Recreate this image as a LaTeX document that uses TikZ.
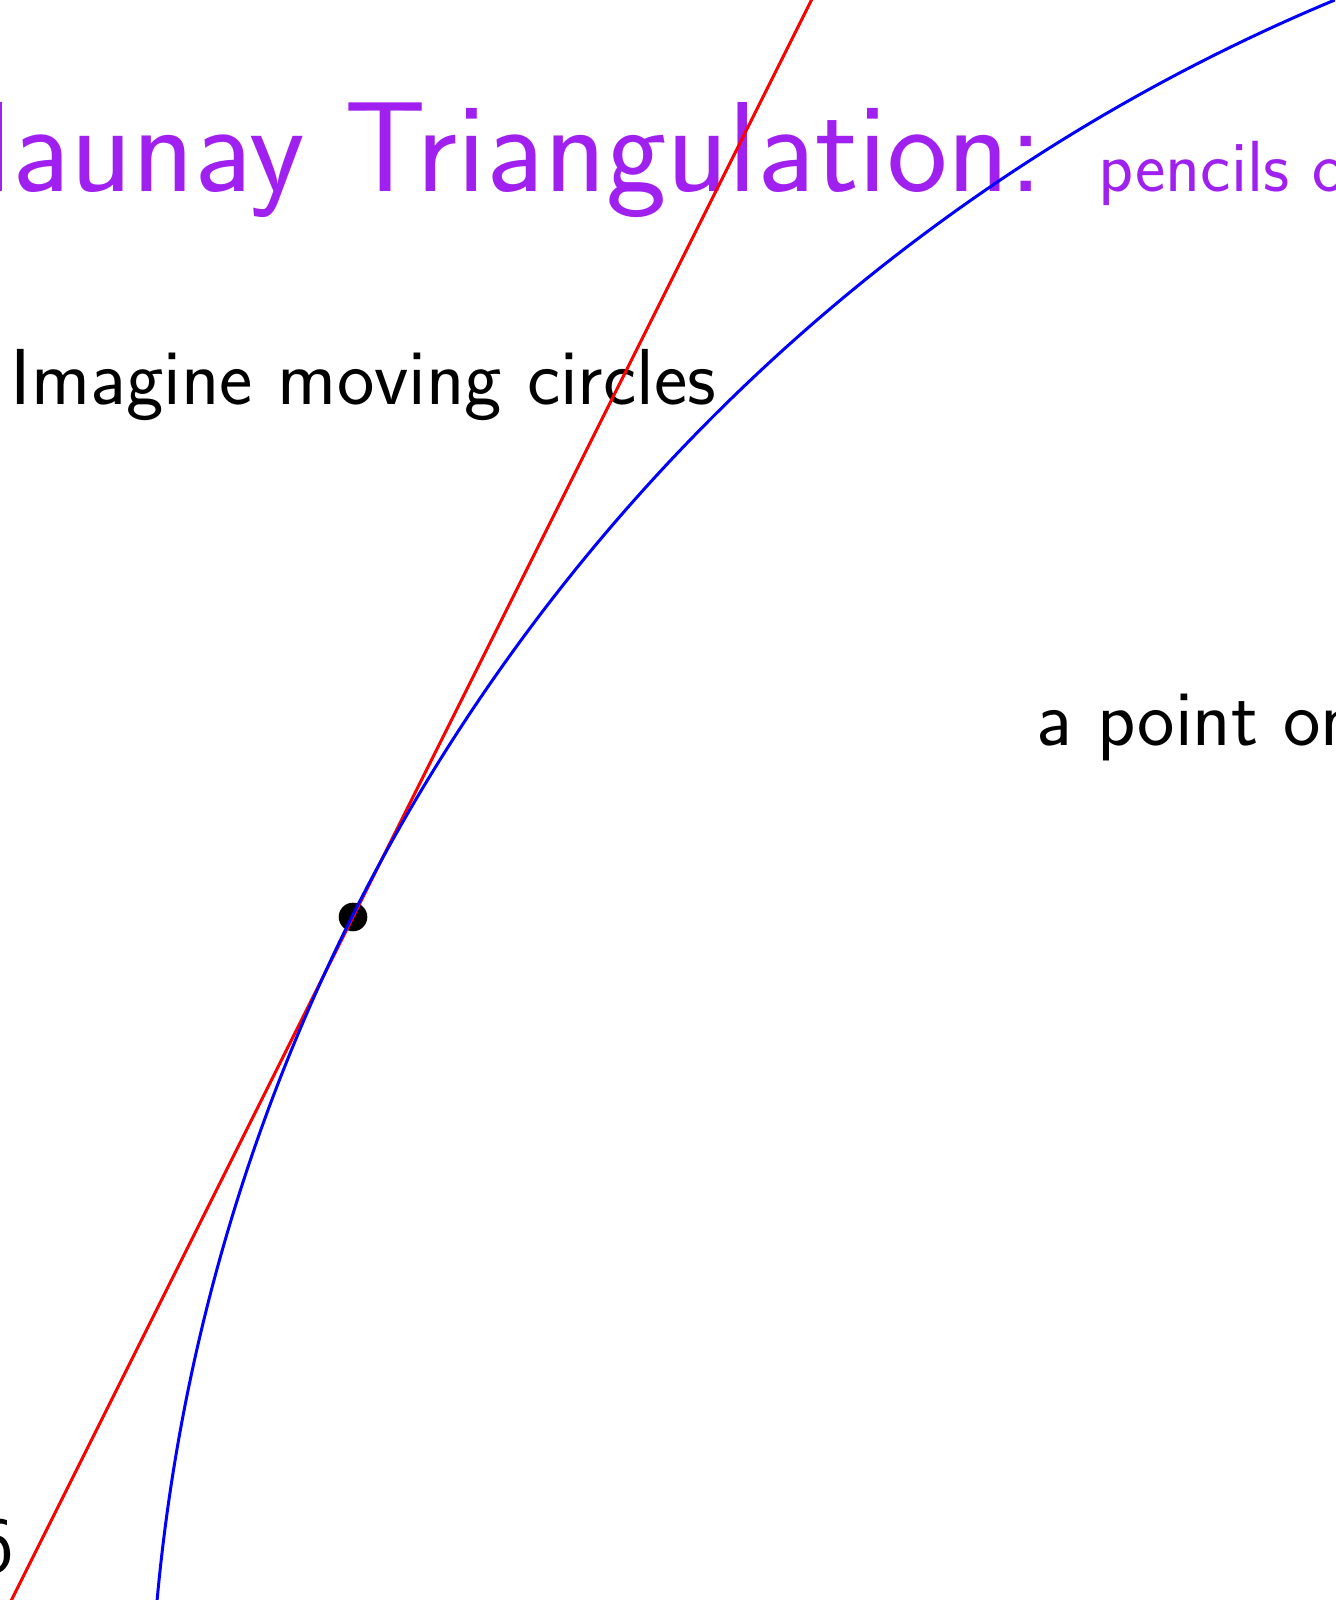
\documentclass[tikz,border=0pt]{standalone}
\usetikzlibrary{positioning,calc}
\definecolor{titlepurple}{RGB}{160,32,240}
\tikzset{
  slidetext/.style={inner sep=0pt, font=\sffamily\fontsize{22.6}{26}\selectfont},
  curve/.style={line width=0.85pt}
}
\begin{document}
\begin{tikzpicture}

\useasboundingbox (0,0) rectangle (13.35,16);
\clip (0,0) rectangle (13.35,16);

% Title and subtitle
\node[inner sep=0pt, anchor=base east, text=titlepurple,
  font=\sffamily\fontsize{36.5}{40}\selectfont]
  (title) at (10.44,14.08) {Delaunay Triangulation:};
\node[inner sep=0pt, anchor=base west, text=titlepurple,
  font=\sffamily\fontsize{20.6}{24}\selectfont]
  (subtitle) at (10.98,14.08) {pencils of};

% Slide text
\node[slidetext, anchor=base west] (imagine) at (0.1,11.95) {Imagine moving circles};
\node[slidetext, anchor=base west] (point) at (10.36,8.54) {a point on};
\node[slidetext, anchor=base east] (six) at (0.15,0.27) {6};

% The point
\coordinate (P) at (3.53,6.83);
\fill (P) circle (0.143);

% Tangent line through the point
\draw[red, curve] ($(P)+(-4,-8)$) -- ($(P)+(5,10)$);

% Circle through the point
\draw[blue, curve] (20.74,-1.78) circle (19.25);

\end{tikzpicture}
\end{document}
